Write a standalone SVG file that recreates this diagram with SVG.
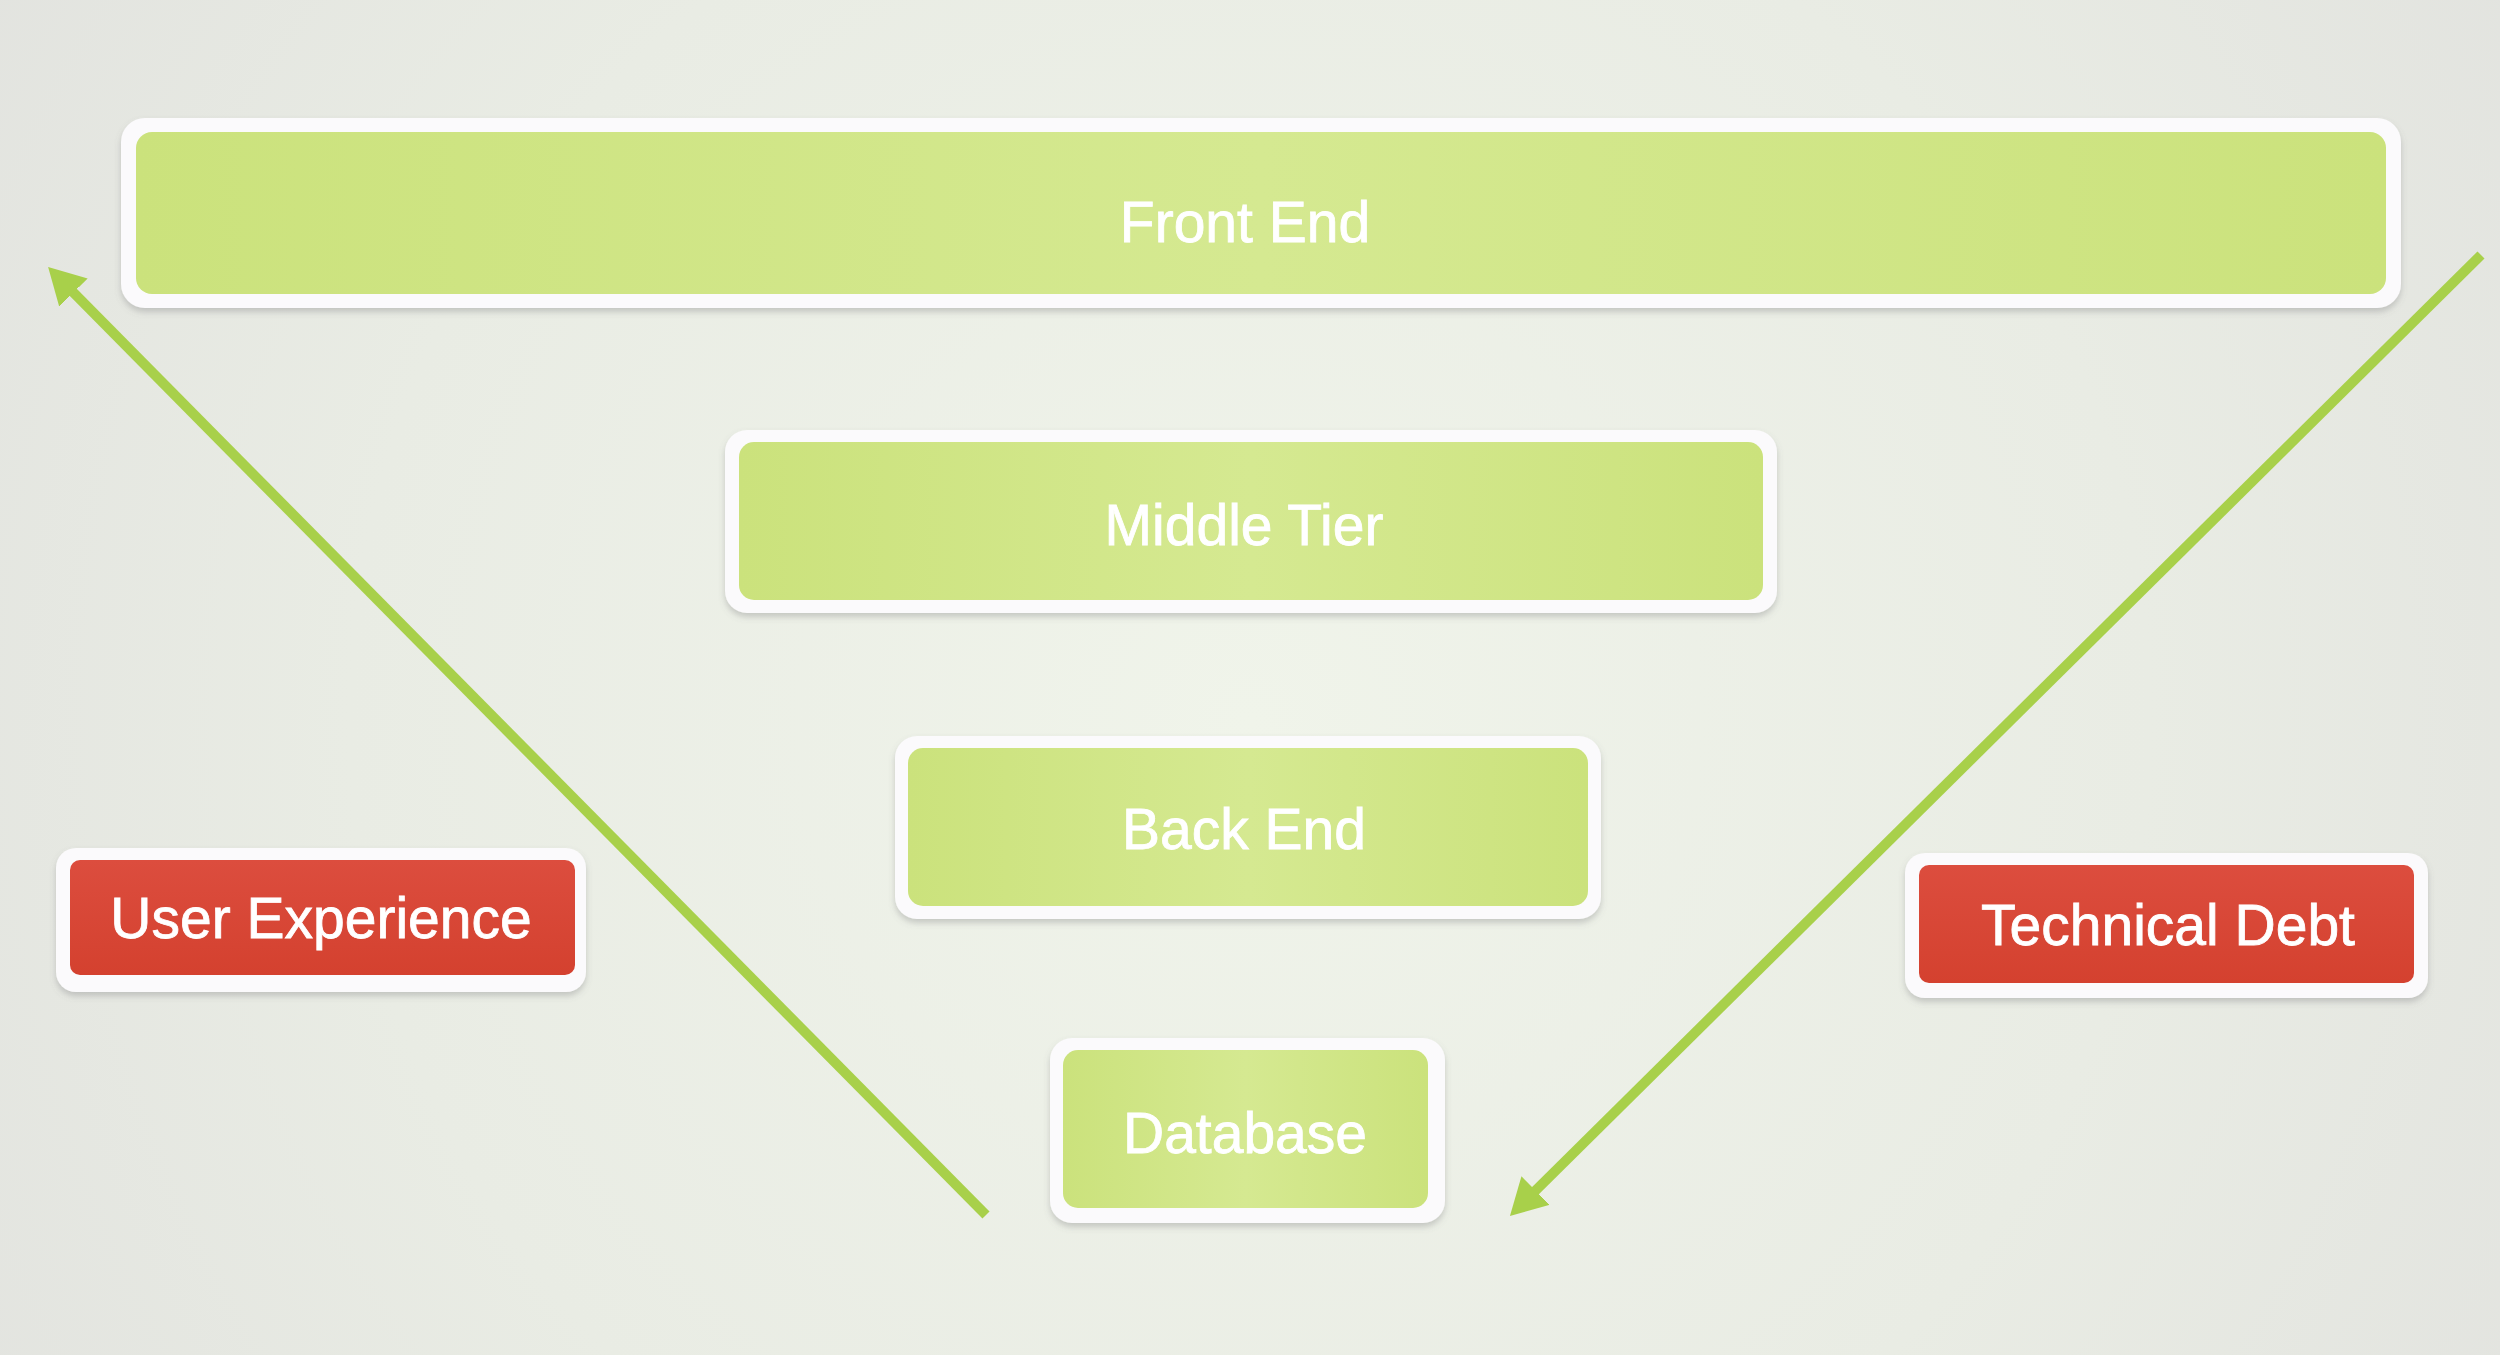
<svg xmlns="http://www.w3.org/2000/svg" width="2500" height="1355" viewBox="0 0 2500 1355">
  <defs>
    <radialGradient id="bg" cx="1250" cy="720" r="1500" gradientUnits="userSpaceOnUse">
      <stop offset="0" stop-color="#f0f4ea"/>
      <stop offset="0.6" stop-color="#e9ece4"/>
      <stop offset="1" stop-color="#e2e3df"/>
    </radialGradient>
    <linearGradient id="green" x1="0" y1="0" x2="1" y2="0">
      <stop offset="0" stop-color="#cbe27c"/>
      <stop offset="0.5" stop-color="#d5e991"/>
      <stop offset="1" stop-color="#cbe27c"/>
    </linearGradient>
    <linearGradient id="red" x1="0" y1="0" x2="0" y2="1">
      <stop offset="0" stop-color="#dc4d3e"/>
      <stop offset="1" stop-color="#d4412f"/>
    </linearGradient>
    <filter id="shadow" x="-10%" y="-20%" width="120%" height="150%">
      <feDropShadow dx="0" dy="4" stdDeviation="3" flood-color="#6a6a70" flood-opacity="0.3"/>
    </filter>
    <marker id="head" viewBox="0 0 36 40" refX="12" refY="20" markerWidth="36" markerHeight="40" markerUnits="userSpaceOnUse" orient="auto">
      <path d="M0,0 L36,20 L0,40 Z" fill="#a8d04a"/>
    </marker>
  </defs>
  <style>
    .frame { fill: #fbfafc; filter: url(#shadow); }
    .g { fill: url(#green); }
    .r { fill: url(#red); }
    .label { font-family: "Liberation Sans", Arial, sans-serif; font-size: 57px; fill: #ffffff; stroke: #ffffff; stroke-width: 0.8; text-anchor: middle; }
    .arrow { stroke: #a8d04a; stroke-width: 10; fill: none; marker-end: url(#head); }
  </style>

  <rect x="0" y="0" width="2500" height="1355" fill="url(#bg)"/>

  <g id="connectors">
    <path class="arrow" d="M986,1215 L65,284"/>
    <path class="arrow" d="M2481,255 L1527,1199"/>
  </g>

  <g id="front-end">
    <rect class="frame" x="121" y="118" width="2280" height="190" rx="24"/>
    <rect class="g" x="136" y="132" width="2250" height="162" rx="16"/>
    <text class="label" x="1245" y="242">Front End</text>
  </g>

  <g id="middle-tier">
    <rect class="frame" x="725" y="430" width="1052" height="183" rx="22"/>
    <rect class="g" x="739" y="442" width="1024" height="158" rx="15"/>
    <text class="label" x="1244" y="545">Middle Tier</text>
  </g>

  <g id="back-end">
    <rect class="frame" x="895" y="736" width="706" height="183" rx="22"/>
    <rect class="g" x="908" y="748" width="680" height="158" rx="15"/>
    <text class="label" x="1244" y="849">Back End</text>
  </g>

  <g id="database">
    <rect class="frame" x="1050" y="1038" width="395" height="185" rx="22"/>
    <rect class="g" x="1063" y="1050" width="365" height="158" rx="15"/>
    <text class="label" x="1245" y="1153">Database</text>
  </g>

  <g id="user-experience">
    <rect class="frame" x="56" y="848" width="530" height="144" rx="20"/>
    <rect class="r" x="70" y="860" width="505" height="115" rx="10"/>
    <text class="label" x="321" y="938">User Experience</text>
  </g>

  <g id="technical-debt">
    <rect class="frame" x="1905" y="853" width="523" height="145" rx="20"/>
    <rect class="r" x="1919" y="865" width="495" height="118" rx="10"/>
    <text class="label" x="2168" y="945">Technical Debt</text>
  </g>
</svg>
